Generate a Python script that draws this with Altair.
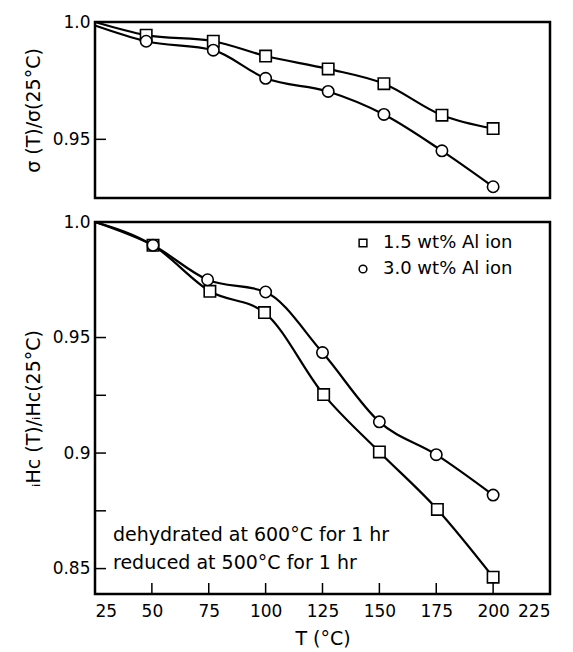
import altair as alt
import pandas as pd

series_names = ["1.5 wt% Al ion", "3.0 wt% Al ion"]
series_shapes = ["square", "circle"]

# upper panel: sigma(T)/sigma(25C)
top_T_sq = [25, 47.5, 77, 100, 127.5, 152, 177.5, 200]
top_v_sq = [1.0, 0.9944, 0.9918, 0.9855, 0.9800, 0.9737, 0.9603, 0.9546]
top_T_ci = [25, 47.5, 77, 100, 127.5, 152, 177.5, 200]
top_v_ci = [0.9985, 0.9918, 0.9880, 0.9760, 0.9704, 0.9606, 0.9451, 0.9298]

# lower panel: iHc(T)/iHc(25C)
bot_T_sq = [25, 50.5, 75.5, 99.5, 125.5, 150, 175.5, 200]
bot_v_sq = [1.0, 0.9899, 0.9700, 0.9608, 0.9253, 0.9005, 0.8756, 0.8463]
bot_T_ci = [25, 50.5, 74.5, 100, 125, 150, 175, 200]
bot_v_ci = [1.0, 0.9899, 0.9750, 0.9697, 0.9435, 0.9135, 0.8993, 0.8818]

x_ticks = [25, 50, 75, 100, 125, 150, 175, 200, 225]
x_inner_ticks = [50, 75, 100, 125, 150, 175, 200]
top_y_labels = [0.95, 1.0]
top_y_ticks = [0.95]
bot_y_labels = [0.85, 0.9, 0.95, 1.0]
bot_y_ticks = [0.85, 0.875, 0.9, 0.925, 0.95]

note_lines = ["dehydrated at 600°C for 1 hr", "reduced at 500°C for 1 hr"]

FONT = "DejaVu Sans"
TOP_H = 176
BOT_H = 372
W = 455


def frame(Ts, vs, name):
    return pd.DataFrame({"T": Ts, "v": vs, "s": [name] * len(Ts)})


top_df = pd.concat([frame(top_T_sq, top_v_sq, series_names[0]),
                    frame(top_T_ci, top_v_ci, series_names[1])])
bot_df = pd.concat([frame(bot_T_sq, bot_v_sq, series_names[0]),
                    frame(bot_T_ci, bot_v_ci, series_names[1])])

xscale = alt.Scale(domain=[25, 225], nice=False, zero=False)
shape_scale = alt.Scale(domain=series_names, range=series_shapes)
label_expr = "datum.value == 1 ? '1.0' : format(datum.value, '.2~f')"


def panel(df, ydomain, ylabels, yticks, ytitle, height, show_x, show_legend):
    yaxis = alt.Axis(values=ylabels, labelExpr=label_expr, ticks=False, domain=False,
                     grid=False, title=ytitle, titleFont=FONT, titleFontSize=19,
                     titleFontWeight="normal", titleColor="black", labelFont=FONT,
                     labelFontSize=17, labelColor="black", labelPadding=5,
                     minExtent=45, maxExtent=45, titlePadding=7)
    if show_x:
        xaxis = alt.Axis(values=x_ticks, ticks=False, domain=False, grid=False,
                         title="T (°C)", titleFont=FONT, titleFontSize=19,
                         titleFontWeight="normal", titleColor="black",
                         labelFont=FONT, labelFontSize=17, labelColor="black",
                         labelPadding=9, titlePadding=10)
    else:
        xaxis = None
    yscale = alt.Scale(domain=ydomain, nice=False, zero=False)
    base = alt.Chart(df)
    line = base.mark_line(interpolate="monotone", color="black", strokeWidth=2.2).encode(
        x=alt.X("T:Q", scale=xscale, axis=xaxis),
        y=alt.Y("v:Q", scale=yscale, axis=yaxis),
        detail="s:N",
    )
    pts = base.mark_point(filled=False, fill="white", color="black", strokeWidth=1.6,
                          size=130, opacity=1, fillOpacity=1).encode(
        x=alt.X("T:Q", scale=xscale),
        y=alt.Y("v:Q", scale=yscale),
        shape=alt.Shape("s:N", scale=shape_scale, legend=None),
    ).transform_filter("datum.T > 25")
    ytk = alt.Chart(pd.DataFrame({"v": yticks})).mark_rule(color="black", strokeWidth=1.5).encode(
        y=alt.Y("v:Q", scale=yscale), x=alt.value(0), x2=alt.value(11))
    layers = [line, pts, ytk]
    if show_x:
        xtk = alt.Chart(pd.DataFrame({"T": x_inner_ticks})).mark_rule(color="black", strokeWidth=1.5).encode(
            x=alt.X("T:Q", scale=xscale), y=alt.value(height), y2=alt.value(height - 11))
        layers.append(xtk)
        for i, t in enumerate(note_lines):
            layers.append(alt.Chart(pd.DataFrame({"t": [t]})).mark_text(
                align="left", baseline="middle", font=FONT, fontSize=19, color="black").encode(
                text="t:N", x=alt.value(18), y=alt.value(313 + 28 * i)))
    if show_legend:
        for i, (name, shp) in enumerate(zip(series_names, series_shapes)):
            ldf = pd.DataFrame({"s": [name], "label": [name.replace(" ion", "  ion")]})
            layers.append(alt.Chart(ldf).mark_point(
                shape=shp, size=60, filled=False, fill="white", color="black",
                strokeWidth=1.5, opacity=1).encode(
                x=alt.value(268), y=alt.value(21 + 26 * i)))
            layers.append(alt.Chart(ldf).mark_text(
                align="left", baseline="middle", font=FONT, fontSize=18, color="black").encode(
                text="label:N", x=alt.value(288), y=alt.value(21 + 26 * i)))
    return alt.layer(*layers).properties(width=W, height=height)


top = panel(top_df, [0.925, 1.0], top_y_labels, top_y_ticks, "σ (T)/σ(25°C)",
            TOP_H, False, False)
bottom = panel(bot_df, [0.839, 1.0], bot_y_labels, bot_y_ticks, "ᵢHᴄ (T)/ᵢHᴄ(25°C)",
               BOT_H, True, True)

chart = alt.vconcat(top, bottom, spacing=24, bounds="flush").properties(
    padding={"left": 22, "top": 11, "right": 8, "bottom": 5},
    background="white",
).configure_view(stroke="black", strokeWidth=2.5)

chart.save("out.html", embed_options={"renderer": "svg", "actions": False})
